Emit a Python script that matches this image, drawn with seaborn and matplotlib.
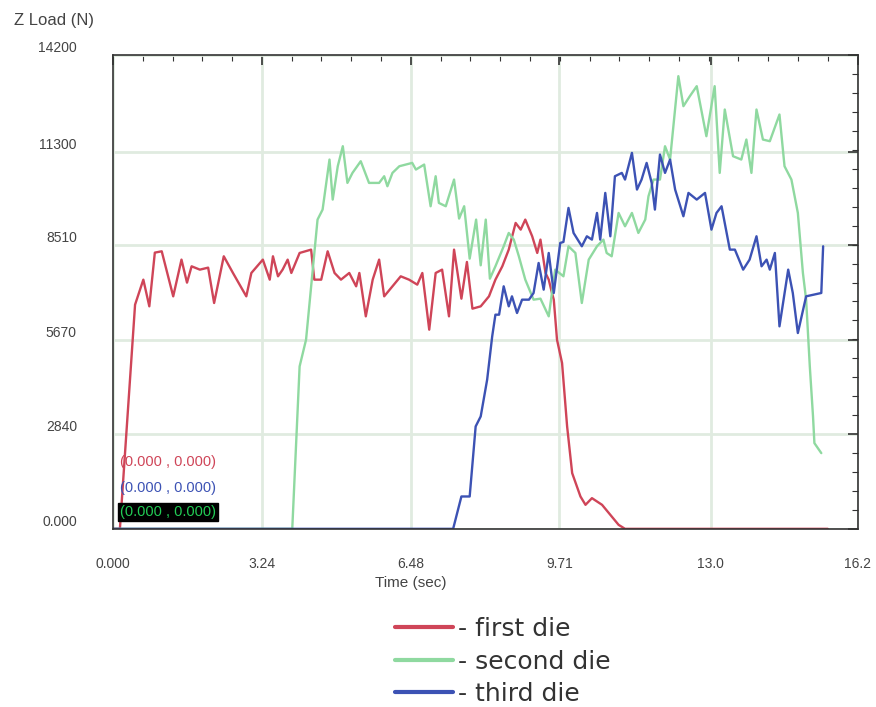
import numpy as np
import pandas as pd
import matplotlib
matplotlib.use("Agg")
import matplotlib.pyplot as plt
from matplotlib.ticker import AutoMinorLocator, FixedLocator
from matplotlib.transforms import ScaledTranslation
import seaborn as sns

# Z load vs time for the three dies
t_first = [0.0, 0.15, 0.48, 0.66, 0.79, 0.91, 1.06, 1.31, 1.49, 1.61, 1.71, 1.89, 2.07, 2.20,
           2.41, 2.61, 2.90, 3.01, 3.26, 3.41, 3.48, 3.59, 3.69, 3.80, 3.88, 4.06, 4.31, 4.38,
           4.53, 4.67, 4.82, 4.96, 5.14, 5.29, 5.36, 5.50, 5.65, 5.79, 5.90, 6.08, 6.26, 6.44,
           6.62, 6.73, 6.88, 7.02, 7.16, 7.31, 7.42, 7.58, 7.70, 7.82, 8.00, 8.18, 8.32, 8.47,
           8.61, 8.76, 8.87, 8.97, 9.12, 9.23, 9.30, 9.41, 9.48, 9.55, 9.59, 9.66, 9.77, 9.88,
           9.99, 10.17, 10.28, 10.42, 10.64, 10.85, 11.00, 11.14, 15.55]
z_first = [0, 0, 6720, 7470, 6670, 8280, 8320, 6970, 8070, 7380, 7870, 7770, 7830, 6770,
           8170, 7670, 6970, 7670, 8070, 7470, 8170, 7570, 7770, 8070, 7670, 8270, 8370, 7470,
           7470, 8320, 7670, 7470, 7670, 7270, 7670, 6370, 7470, 8070, 6970, 7270, 7570, 7470,
           7320, 7670, 5970, 7670, 7770, 6370, 8370, 6900, 8000, 6600, 6670, 6970, 7470, 7870,
           8370, 9170, 8970, 9270, 8770, 8270, 8670, 7670, 7470, 7070, 6870, 5670, 4970, 3070,
           1670, 970, 720, 920, 720, 370, 120, 0, 0]

t_second = [0.0, 3.90, 4.06, 4.13, 4.20, 4.45, 4.56, 4.71, 4.78, 4.89, 5.00, 5.10, 5.21, 5.39,
            5.57, 5.79, 5.90, 5.97, 6.08, 6.23, 6.51, 6.59, 6.77, 6.91, 7.02, 7.09, 7.24, 7.42,
            7.53, 7.64, 7.76, 7.90, 8.00, 8.11, 8.20, 8.32, 8.50, 8.61, 8.72, 8.83, 8.97, 9.15,
            9.30, 9.48, 9.62, 9.80, 9.91, 10.06, 10.20, 10.35, 10.53, 10.67, 10.74, 10.85, 11.00,
            11.14, 11.29, 11.43, 11.58, 11.65, 11.76, 11.90, 12.01, 12.12, 12.30, 12.41, 12.55,
            12.70, 12.91, 13.09, 13.20, 13.31, 13.49, 13.67, 13.78, 13.89, 14.00, 14.14, 14.29,
            14.50, 14.61, 14.76, 14.90, 15.01, 15.08, 15.16, 15.23, 15.26, 15.41]
z_second = [0, 0, 4870, 5270, 5670, 9270, 9570, 11070, 9870, 10870, 11470, 10370, 10670, 11020,
            10370, 10370, 10570, 10270, 10670, 10870, 10970, 10770, 10920, 9670, 10570, 9770, 9670, 10470,
            9300, 9670, 8100, 9270, 7900, 9270, 7500, 7870, 8470, 8870, 8670, 8170, 7470, 6870,
            6900, 6370, 7770, 7570, 8470, 8270, 6770, 8070, 8470, 8670, 8270, 8170, 9470,
            9070, 9470, 8870, 9270, 9970, 10470, 10470, 11470, 11070, 13570, 12670, 12970,
            13270, 11770, 13270, 10670, 12570, 11170, 11070, 11670, 10670, 12570, 11670, 11620,
            12420, 10870, 10470, 9470, 7670, 6870, 4870, 3370, 2570, 2270]

t_third = [0.0, 7.40, 7.58, 7.76, 7.89, 8.00, 8.14, 8.25, 8.32, 8.40, 8.50, 8.61, 8.68, 8.79,
           8.90, 9.05, 9.15, 9.26, 9.37, 9.48, 9.59, 9.73, 9.80, 9.91, 10.02, 10.20, 10.31, 10.42,
           10.53, 10.60, 10.71, 10.82, 10.92, 11.07, 11.14, 11.29, 11.40, 11.50, 11.61, 11.72,
           11.79, 11.90, 12.01, 12.12, 12.23, 12.41, 12.52, 12.70, 12.88, 13.02, 13.13, 13.24,
           13.42, 13.53, 13.71, 13.85, 14.00, 14.11, 14.22, 14.29, 14.40, 14.50, 14.69, 14.79,
           14.90, 15.08, 15.41, 15.45]
z_third = [0, 0, 970, 970, 3070, 3370, 4470, 5770, 6420, 6420, 7270, 6670, 6970, 6470,
           6870, 6870, 7070, 7970, 7170, 8270, 7070, 8570, 8600, 9620, 8870, 8470, 8770, 8670,
           9470, 8670, 10070, 8770, 10570, 10670, 10470, 11270, 10170, 10470, 10970, 10370,
           9570, 11220, 10670, 11070, 10170, 9370, 10070, 9870, 10070, 8970, 9470, 9670,
           8370, 8370, 7770, 8070, 8770, 7870, 8070, 7770, 8270, 6070, 7770, 7070,
           5870, 6970, 7070, 8470]

die_names = ["- first die", "- second die", "- third die"]
die_colors = ["#cf4558", "#8fd9a0", "#3c52b4"]
x_ticks = [0.0, 3.24, 6.48, 9.71, 13.0, 16.2]
x_labels = ["0.000", "3.24", "6.48", "9.71", "13.0", "16.2"]
y_ticks = [0, 2840, 5670, 8510, 11300, 14200]
y_labels = ["0.000", "2840", "5670", "8510", "11300", "14200"]

df = pd.concat([
    pd.DataFrame({"time": t_first, "load": z_first, "die": die_names[0]}),
    pd.DataFrame({"time": t_second, "load": z_second, "die": die_names[1]}),
    pd.DataFrame({"time": t_third, "load": z_third, "die": die_names[2]}),
], ignore_index=True)

sns.set_style("white")
plt.rcParams["font.family"] = ["Liberation Sans", "DejaVu Sans"]

fig = plt.figure(figsize=(8.76, 7.07), dpi=100)
ax = fig.add_axes([0.129, 0.252, 0.850, 0.670])

sns.lineplot(data=df, x="time", y="load", hue="die", hue_order=die_names,
             palette=die_colors, estimator=None, sort=False, linewidth=1.7, ax=ax)

ax.set_xlim(0, 16.2)
ax.set_ylim(0, 14200)
ax.xaxis.set_major_locator(FixedLocator(x_ticks))
ax.yaxis.set_major_locator(FixedLocator(y_ticks))
ax.set_xticklabels(x_labels)
ax.set_yticklabels(y_labels)
ax.xaxis.set_minor_locator(AutoMinorLocator(5))
ax.yaxis.set_minor_locator(AutoMinorLocator(5))
ax.tick_params(which="both", direction="in", top=True, right=True, colors="#333333",
               labelcolor="#444444")
ax.tick_params(which="major", length=7, width=1.2)
ax.tick_params(which="minor", length=4, width=0.8)
ax.tick_params(axis="x", pad=20, labelsize=10)
ax.tick_params(axis="y", pad=26, labelsize=10)
for lab in ax.get_yticklabels():
    lab.set_transform(lab.get_transform() + ScaledTranslation(0, 6 / 72, fig.dpi_scale_trans))
ax.grid(True, which="major", color="#e0ebe0", linewidth=2)
for sp in ax.spines.values():
    sp.set_color("#333333")
    sp.set_linewidth(1.2)
ax.set_xlabel("")
ax.set_ylabel("")

fig.text(14 / 876, 1 - 20 / 707, "Z Load (N)", fontsize=12, color="#444444",
         ha="left", va="center")
fig.text(411 / 876, 1 - 583 / 707, "Time (sec)", fontsize=11, color="#444444",
         ha="center", va="center")

# cursor readouts in the lower-left corner
ax.text(0.009, 0.141, "(0.000 , 0.000)", transform=ax.transAxes, color="#cf4558",
        fontsize=10.5, va="center")
ax.text(0.009, 0.087, "(0.000 , 0.000)", transform=ax.transAxes, color="#3c52b4",
        fontsize=10.5, va="center")
ax.text(0.009, 0.036, "(0.000 , 0.000)", transform=ax.transAxes, color="#22cc55",
        fontsize=10.5, va="center",
        bbox=dict(facecolor="black", edgecolor="black", pad=1.5))

sns.move_legend(ax, "upper left", bbox_to_anchor=(0.451, 0.127), bbox_transform=fig.transFigure,
                frameon=False, title=None, fontsize=18, handlelength=2.3, handletextpad=0.2,
                labelspacing=0.34, borderpad=0, borderaxespad=0)
leg = ax.get_legend()
for line in leg.get_lines():
    line.set_linewidth(3)
for txt in leg.get_texts():
    txt.set_family("DejaVu Sans")
    txt.set_color("#333333")

fig.savefig("out.png", dpi=100)
